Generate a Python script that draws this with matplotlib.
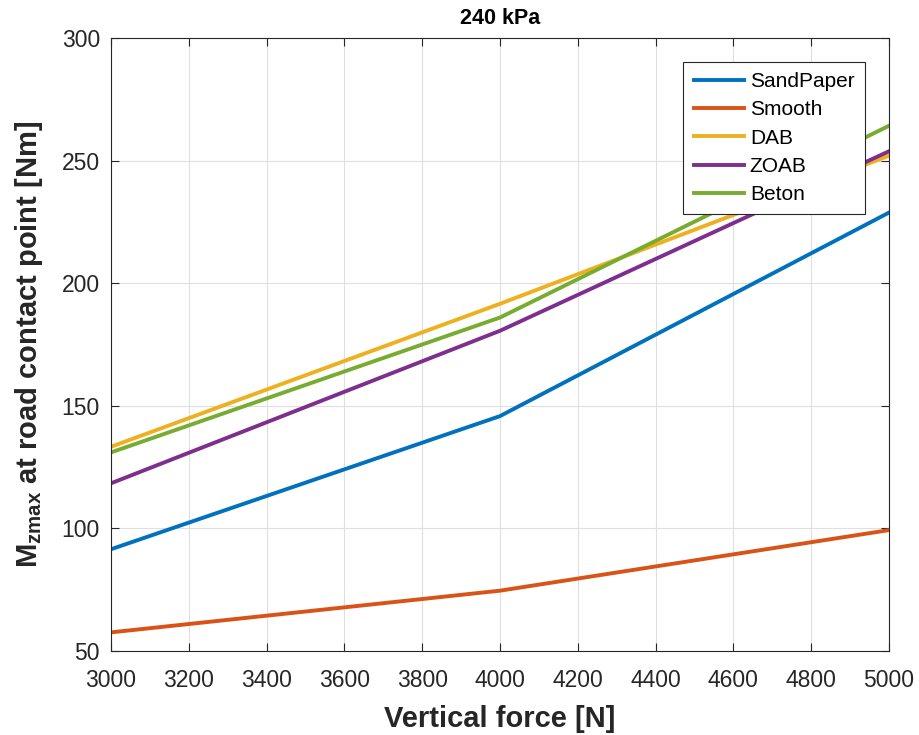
import numpy as np
import matplotlib
matplotlib.use('Agg')
import matplotlib.pyplot as plt

plt.rcParams['font.family'] = ['Liberation Sans', 'DejaVu Sans']
plt.rcParams['mathtext.fontset'] = 'custom'
plt.rcParams['mathtext.rm'] = 'Liberation Sans'
plt.rcParams['mathtext.bf'] = 'Liberation Sans:bold'

# vertical force [N] and max aligning moment [Nm] per road surface
force = [3000, 4000, 5000]
sandpaper = [91.5, 145.8, 228.8]
smooth = [57.6, 74.6, 99.3]
dab = [133.3, 191.6, 252.0]
zoab = [118.4, 180.6, 253.8]
beton = [131.0, 186.0, 264.2]

labels = ['SandPaper', 'Smooth', 'DAB', 'ZOAB', 'Beton']
colors = [(0, 0.447, 0.741), (0.85, 0.325, 0.098), (0.929, 0.694, 0.125),
          (0.494, 0.184, 0.556), (0.466, 0.674, 0.188)]
dark = '#262626'

fig = plt.figure(figsize=(9.2, 7.35), dpi=100)
ax = fig.add_axes([0.1207, 0.1143, 0.8456, 0.834])

for y, lab, c in zip([sandpaper, smooth, dab, zoab, beton], labels, colors):
    ax.plot(force, y, color=c, linewidth=2.8, label=lab)

ax.set_xlim(3000, 5000)
ax.set_ylim(50, 300)
ax.set_xticks(np.arange(3000, 5001, 200))
ax.set_yticks(np.arange(50, 301, 50))
ax.grid(True, color='#dfdfdf', linewidth=0.8)
ax.set_axisbelow(True)
ax.tick_params(direction='in', top=True, right=True, labelsize=16.5,
               length=6, width=0.8, color=dark, labelcolor=dark)
ax.tick_params(axis='x', pad=13)
ax.tick_params(axis='y', pad=8)
for s in ax.spines.values():
    s.set_color(dark)
    s.set_linewidth(0.8)

ax.set_title('240 kPa', fontsize=15.5, fontweight='bold', pad=10)
ax.set_xlabel('Vertical force [N]', fontsize=21, fontweight='bold',
              labelpad=9, color=dark)
ax.set_ylabel(r'M$_{\mathbf{zmax}}$ at road contact point [Nm]',
              fontsize=21, fontweight='bold', labelpad=12, color=dark)

leg = ax.legend(loc='upper right', bbox_to_anchor=(0.969, 0.961), fontsize=15,
                fancybox=False, framealpha=1, edgecolor=dark,
                handlelength=2.4, handletextpad=0.3, borderpad=0.5,
                labelspacing=0.44, borderaxespad=0)
leg.get_frame().set_linewidth(0.8)

fig.savefig('out.png', dpi=100)
